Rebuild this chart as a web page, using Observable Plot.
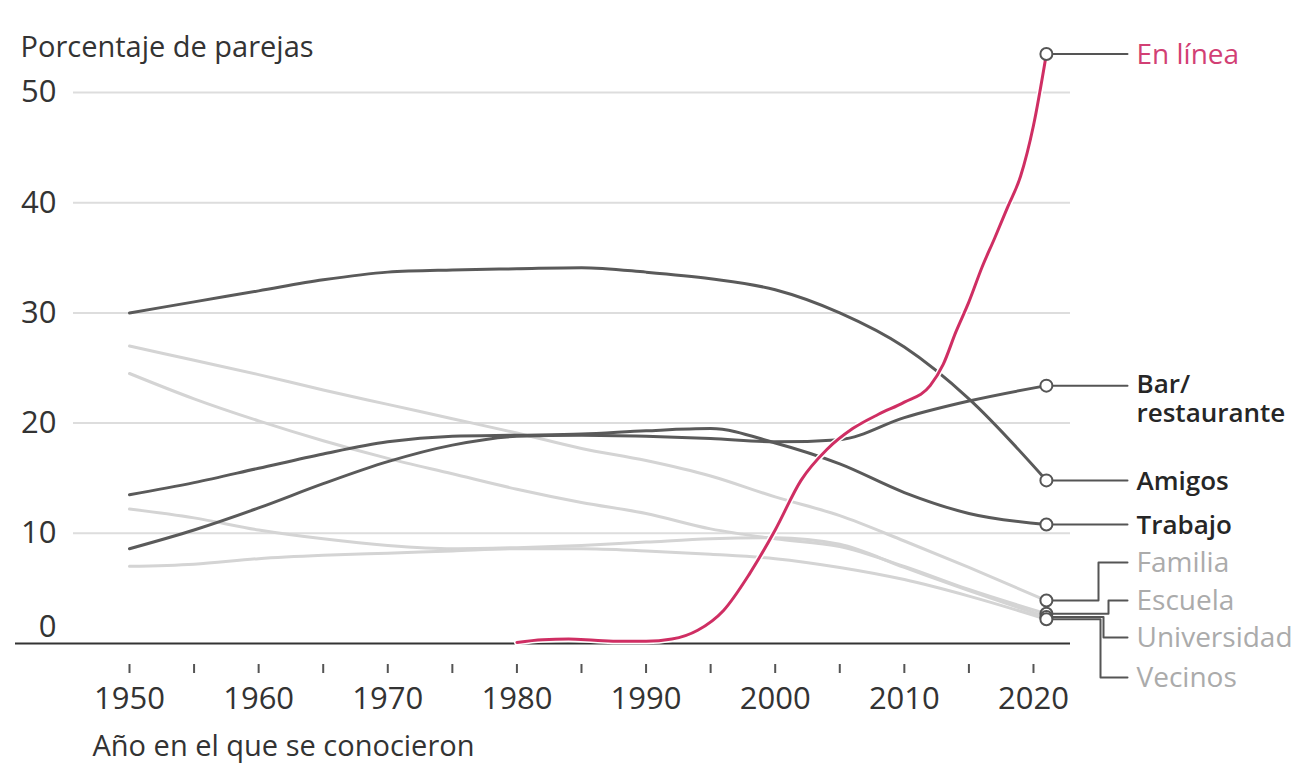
<!DOCTYPE html>
<html><head><meta charset="utf-8">
<script src="https://cdn.jsdelivr.net/npm/d3@7"></script>
<script src="https://cdn.jsdelivr.net/npm/@observablehq/plot@0.6"></script>
<style>body{margin:0;background:#fff;}</style>
</head><body><div id="chart"></div>
<script>
// ---------- data ----------
const years = [1950,1955,1960,1965,1970,1975,1980,1985,1990,1995,2000,2005,2010,2015,2021];
const amigos      = [30.0,31.0,32.0,33.0,33.7,33.9,34.0,34.1,33.7,33.1,32.1,30.0,26.9,22.2,14.8];
const trabajo     = [13.5,14.6,15.9,17.2,18.3,18.8,18.9,19.0,19.3,19.5,18.2,16.3,13.7,11.8,10.8];
const bar         = [8.6,10.3,12.3,14.5,16.5,18.0,18.8,18.9,18.8,18.6,18.3,18.5,20.5,22.0,23.4];
const familia     = [27.0,25.7,24.4,23.0,21.7,20.4,19.1,17.7,16.6,15.2,13.3,11.6,9.3,6.9,3.9];
const escuela     = [24.5,22.2,20.2,18.4,16.8,15.4,14.0,12.8,11.8,10.4,9.5,8.8,7.0,4.9,2.7];
const universidad = [12.2,11.4,10.3,9.5,8.9,8.6,8.7,8.9,9.2,9.5,9.6,9.0,6.9,4.8,2.4];
const vecinos     = [7.0,7.2,7.7,8.0,8.2,8.4,8.6,8.6,8.4,8.1,7.7,6.9,5.8,4.3,2.2];
const onlineYears  = [1980,1982,1984,1986,1988,1990,1992,1994,1996,1998,2000,2002,2004,2006,2008,2010,2012,2013,2014,2015,2016,2017,2018,2019,2020,2021];
const onlineValues = [0.1,0.35,0.4,0.3,0.2,0.2,0.4,1.2,3.0,6.3,10.3,14.8,17.6,19.5,20.8,21.9,23.4,25.3,28.3,31.0,34.1,36.8,39.6,42.4,47.0,53.5];
const yTicks = [10,20,30,40,50];
const xTicks = d3.range(1950, 2021, 5);
const labels = ["En línea","Bar/\nrestaurante","Amigos","Trabajo","Familia","Escuela","Universidad","Vecinos"];

// ---------- layout (pixels) ----------
const X0 = 129, PX_PER_YEAR = 12.914, Y0 = 643, PX_PER_UNIT = 11.02;
const xv = px => 1950 + (px - X0) / PX_PER_YEAR;
const yv = px => (Y0 - px) / PX_PER_UNIT;
const PINK = "#cf2e63", DARK = "#5a5a5a", LIGHT = "#d4d4d4";
const FONT = "'Open Sans', 'Noto Sans', sans-serif";
const labelLayout = {
  "En línea":         {y: null, elbow: null, color: "#d23f74", weight: 500, size: 28},
  "Bar/\nrestaurante":{y: 398,  elbow: null, color: "#262626", weight: 600, size: 26},
  "Amigos":           {y: null, elbow: null, color: "#262626", weight: 600, size: 26},
  "Trabajo":          {y: null, elbow: null, color: "#262626", weight: 600, size: 26},
  "Familia":          {y: 562,  elbow: 1098, color: "#ababab", weight: 500, size: 28},
  "Escuela":          {y: 600,  elbow: 1108, color: "#ababab", weight: 500, size: 28},
  "Universidad":      {y: 637,  elbow: 1103, color: "#ababab", weight: 500, size: 28},
  "Vecinos":          {y: 677,  elbow: 1100, color: "#ababab", weight: 500, size: 28}
};
const CONN_END = 1127, LABEL_X = 1136;

// ---------- build tables ----------
const seriesDefs = [
  {name: "Familia", vals: familia, kind: "light"},
  {name: "Escuela", vals: escuela, kind: "light"},
  {name: "Universidad", vals: universidad, kind: "light"},
  {name: "Vecinos", vals: vecinos, kind: "light"},
  {name: "Amigos", vals: amigos, kind: "dark"},
  {name: "Trabajo", vals: trabajo, kind: "dark"},
  {name: "Bar/\nrestaurante", vals: bar, kind: "dark"}
];
const rows = [];
for (const s of seriesDefs) years.forEach((yr, i) => rows.push({name: s.name, kind: s.kind, year: yr, value: s.vals[i]}));
onlineYears.forEach((yr, i) => rows.push({name: "En línea", kind: "online", year: yr, value: onlineValues[i]}));

const ends = labels.map(name => {
  const r = rows.filter(d => d.name === name);
  return r[r.length - 1];
});

const connectors = [];
const labelRows = [];
for (const e of ends) {
  const L = labelLayout[e.name];
  const ly = L.y == null ? e.value : yv(L.y);
  const pts = L.elbow == null
    ? [[e.year, e.value], [xv(CONN_END), e.value]]
    : [[e.year, e.value], [xv(L.elbow), e.value], [xv(L.elbow), ly], [xv(CONN_END), ly]];
  pts.forEach(p => connectors.push({name: e.name, year: p[0], value: p[1]}));
  labelRows.push({name: e.name, year: xv(LABEL_X), value: ly, color: L.color, weight: L.weight, size: L.size});
}

const textMark = (w, s) => Plot.text(labelRows.filter(d => d.weight === w && d.size === s),
  {x: "year", y: "value", text: "name", fill: "color", textAnchor: "start", lineHeight: 1.1, fontSize: s, fontWeight: w});

const chart = Plot.plot({
  width: 1293,
  height: 770,
  marginLeft: 0, marginTop: 0, marginRight: 0, marginBottom: 106,
  x: {domain: [1950, 2020], range: [X0, X0 + 70 * PX_PER_YEAR]},
  y: {domain: [0, 50], range: [Y0, Y0 - 50 * PX_PER_UNIT], axis: null},
  style: {fontFamily: FONT, fontSize: "28px", color: "#333", background: "#fff"},
  marks: [
    Plot.ruleY(yTicks, {y: d => d, x1: xv(73), x2: xv(1070), stroke: "#dddddd", strokeWidth: 2}),
    Plot.text(yTicks, {y: d => d, frameAnchor: "left", dx: 56, textAnchor: "end", fill: "#333", fontSize: 31, fontWeight: 500}),
    Plot.text([0], {y: d => d, frameAnchor: "left", dx: 56, dy: -16, textAnchor: "end", fill: "#333", fontSize: 31, fontWeight: 500}),
    Plot.axisX({ticks: xTicks, tickSize: 9, tickPadding: 13, tickFormat: d => d % 10 === 0 ? String(d) : "",
                stroke: "#555", strokeWidth: 2, fill: "#333", label: null, fontSize: 31, fontWeight: 500}),
    Plot.line(connectors, {x: "year", y: "value", z: "name", stroke: "#555", strokeWidth: 2}),
    Plot.line(rows.filter(d => d.kind === "light"), {x: "year", y: "value", z: "name", stroke: LIGHT, strokeWidth: 3, curve: "monotone-x"}),
    Plot.line(rows.filter(d => d.kind === "dark"), {x: "year", y: "value", z: "name", stroke: DARK, strokeWidth: 3, curve: "monotone-x"}),
    Plot.ruleY([0], {x1: xv(15), x2: xv(1070), stroke: "#333", strokeWidth: 2}),
    Plot.line(rows.filter(d => d.kind === "online"), {x: "year", y: "value", stroke: "#fff", strokeWidth: 6, curve: "monotone-x"}),
    Plot.line(rows.filter(d => d.kind === "online"), {x: "year", y: "value", stroke: PINK, strokeWidth: 3, curve: "monotone-x"}),
    Plot.dot(ends, {x: "year", y: "value", r: 6, fill: "#fff", stroke: "#555", strokeWidth: 2}),
    textMark(500, 28),
    textMark(600, 26),
    Plot.text(["Porcentaje de parejas"], {frameAnchor: "top-left", dx: 20, dy: 47, lineAnchor: "middle", textAnchor: "start", fill: "#333", fontSize: 29, fontWeight: 500}),
    Plot.text(["Año en el que se conocieron"], {frameAnchor: "top-left", dx: 92, dy: 746, lineAnchor: "middle", textAnchor: "start", fill: "#333", fontSize: 29, fontWeight: 500})
  ]
});
document.getElementById("chart").append(chart);
</script>
</body></html>
